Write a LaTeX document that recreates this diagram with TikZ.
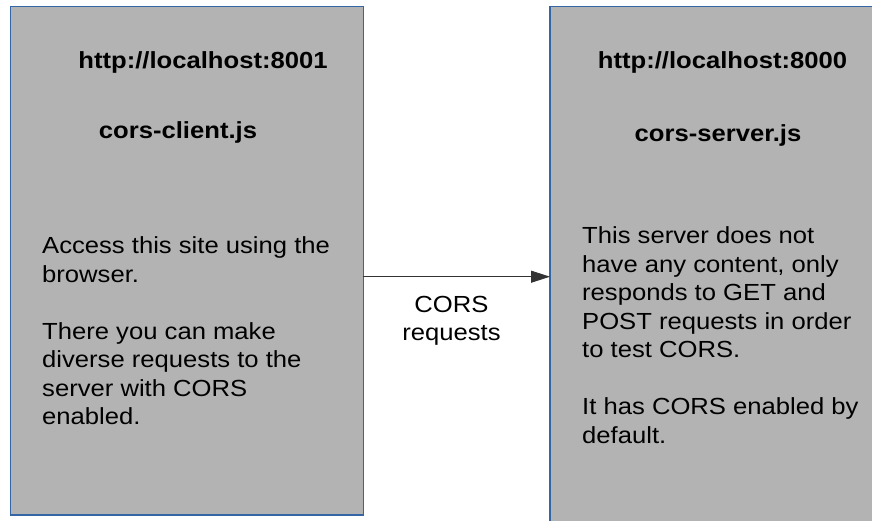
\documentclass[tikz,border=0pt]{standalone}
\usepackage{fontspec}
\setmainfont{Liberation Sans}[FakeStretch=1.1]
\usetikzlibrary{arrows.meta}
\definecolor{boxfill}{HTML}{B3B3B3}
\definecolor{boxline}{HTML}{3465A4}
\tikzset{
  hostbox/.style={draw=boxline, fill=boxfill, line width=1.3pt, inner sep=0pt, outer sep=0pt},
  heading/.style={font=\fontsize{23.3}{28.5}\selectfont\bfseries, inner sep=0pt, anchor=base},
  bodytext/.style={font=\fontsize{23.3}{28.5}\selectfont, inner sep=0pt, align=left, anchor=base west},
  flow/.style={draw=black!80, line width=0.9pt, -{Triangle[length=19pt, width=12pt]}},
  flowlabel/.style={font=\fontsize{23.3}{27.5}\selectfont, inner sep=0pt, align=center, anchor=base}
}
\begin{document}
\begin{tikzpicture}[x=1pt, y=-1pt]
\useasboundingbox (0,0) rectangle (872,520);
\clip (0,0) rectangle (872,520);

% client side
\node[hostbox, minimum width=353pt, minimum height=508.3pt, anchor=north west] (client) at (10.3,6.7) {};
\node[heading] (clienturl) at (203,68.5) {http://localhost:8001};
\node[heading] (clientfile) at (178,138) {cors-client.js};
% multi-line nodes: the base anchor sits on the last line
\node[bodytext] (clientbody) at (42,424.5) {Access this site using the\\browser.\\[28.5pt]There you can make\\diverse requests to the\\server with CORS\\enabled.};

% server side (runs past the right and bottom edges)
\node[hostbox, minimum width=340pt, minimum height=530pt, anchor=north west] (server) at (550,6.7) {};
\node[heading] (serverurl) at (722.5,68.5) {http://localhost:8000};
\node[heading] (serverfile) at (718,141.5) {cors-server.js};
\node[bodytext] (serverbody) at (582,443) {This server does not\\have any content, only\\responds to GET and\\POST requests in order\\to test CORS.\\[28.5pt]It has CORS enabled by\\default.};

% request arrow
\coordinate (flowy) at (0,276.7);
\draw[flow] (client.east |- flowy) -- (server.west |- flowy);
\node[flowlabel] (flowtext) at (451.5,340.2) {CORS\\requests};
\end{tikzpicture}
\end{document}
